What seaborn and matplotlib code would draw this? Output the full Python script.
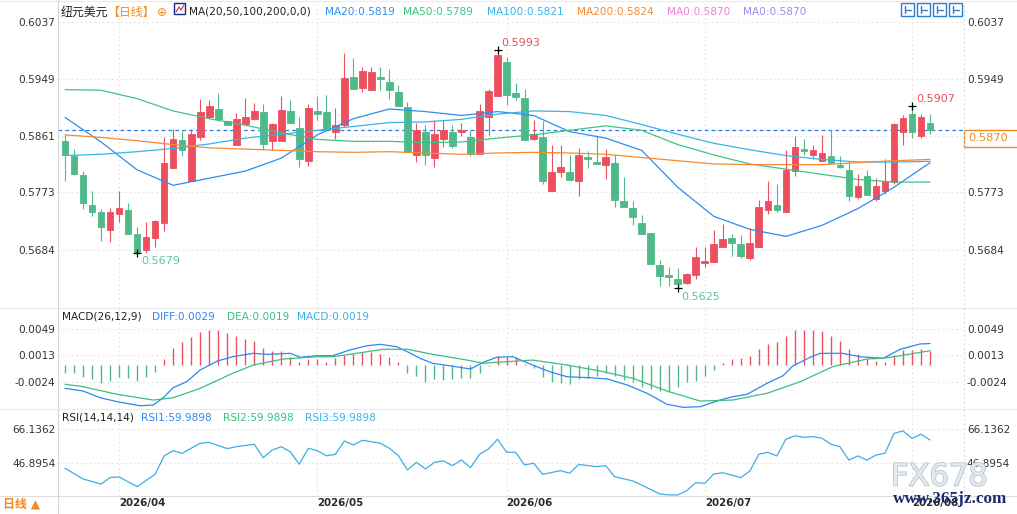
import matplotlib
matplotlib.use("Agg")
import matplotlib.pyplot as plt
import matplotlib.transforms as mtransforms
import matplotlib.patheffects as pe
from matplotlib.lines import Line2D
from matplotlib.patches import Rectangle
import seaborn as sns
import numpy as np
import pandas as pd

# --- DATA: NZD/USD daily candles ---
dates = pd.bdate_range("2026-03-24", "2026-08-05")

opens = [0.5853, 0.5830, 0.5800, 0.5754, 0.5743, 0.5715, 0.5739, 0.5746, 0.5709, 0.5684,
         0.5703, 0.5725, 0.5811, 0.5854, 0.5791, 0.5859, 0.5890, 0.5902, 0.5883, 0.5847,
         0.5879, 0.5887, 0.5897, 0.5853, 0.5853, 0.5899, 0.5873, 0.5822, 0.5899, 0.5897,
         0.5867, 0.5877, 0.5951, 0.5935, 0.5931, 0.5951, 0.5944, 0.5928, 0.5905, 0.5831,
         0.5866, 0.5826, 0.5856, 0.5866, 0.5867, 0.5859, 0.5832, 0.5889, 0.5922, 0.5975,
         0.5927, 0.5919, 0.5856, 0.5859, 0.5775, 0.5805, 0.5805, 0.5791, 0.5828, 0.5820,
         0.5815, 0.5819, 0.5760, 0.5749, 0.5726, 0.5710, 0.5661, 0.5645, 0.5639, 0.5633,
         0.5646, 0.5664, 0.5666, 0.5688, 0.5703, 0.5693, 0.5672, 0.5689, 0.5746, 0.5754,
         0.5743, 0.5806, 0.5840, 0.5831, 0.5822, 0.5829, 0.5816, 0.5808, 0.5766, 0.5798,
         0.5763, 0.5775, 0.5789, 0.5867, 0.5895, 0.5860, 0.5881]
highs = [0.5863, 0.5840, 0.5806, 0.5775, 0.5747, 0.5749, 0.5775, 0.5757, 0.5719, 0.5728,
         0.5730, 0.5858, 0.5871, 0.5868, 0.5871, 0.5917, 0.5916, 0.5927, 0.5885, 0.5896,
         0.5919, 0.5911, 0.5910, 0.5881, 0.5922, 0.5916, 0.5890, 0.5909, 0.5922, 0.5924,
         0.5904, 0.5989, 0.5981, 0.5967, 0.5967, 0.5967, 0.5964, 0.5939, 0.5913, 0.5881,
         0.5877, 0.5885, 0.5885, 0.5877, 0.5881, 0.5870, 0.5910, 0.5933, 0.5993, 0.5982,
         0.5942, 0.5933, 0.5885, 0.5883, 0.5846, 0.5846, 0.5831, 0.5842, 0.5837, 0.5860,
         0.5840, 0.5831, 0.5797, 0.5760, 0.5738, 0.5711, 0.5669, 0.5658, 0.5656, 0.5649,
         0.5689, 0.5688, 0.5715, 0.5724, 0.5709, 0.5707, 0.5718, 0.5761, 0.5791, 0.5786,
         0.5839, 0.5860, 0.5856, 0.5846, 0.5862, 0.5870, 0.5829, 0.5822, 0.5801, 0.5808,
         0.5795, 0.5824, 0.5881, 0.5893, 0.5907, 0.5895, 0.5895]
lows = [0.5791, 0.5800, 0.5747, 0.5737, 0.5698, 0.5697, 0.5728, 0.5709, 0.5679, 0.5680,
        0.5688, 0.5713, 0.5811, 0.5830, 0.5791, 0.5854, 0.5890, 0.5883, 0.5877, 0.5847,
        0.5879, 0.5885, 0.5838, 0.5838, 0.5853, 0.5881, 0.5813, 0.5814, 0.5885, 0.5869,
        0.5855, 0.5874, 0.5933, 0.5928, 0.5931, 0.5931, 0.5917, 0.5907, 0.5836, 0.5820,
        0.5815, 0.5813, 0.5844, 0.5842, 0.5860, 0.5830, 0.5832, 0.5862, 0.5922, 0.5908,
        0.5916, 0.5854, 0.5854, 0.5786, 0.5775, 0.5797, 0.5792, 0.5767, 0.5810, 0.5817,
        0.5793, 0.5751, 0.5750, 0.5722, 0.5709, 0.5662, 0.5629, 0.5629, 0.5625, 0.5631,
        0.5639, 0.5657, 0.5666, 0.5688, 0.5675, 0.5671, 0.5669, 0.5689, 0.5740, 0.5742,
        0.5743, 0.5799, 0.5831, 0.5825, 0.5822, 0.5819, 0.5810, 0.5760, 0.5763, 0.5769,
        0.5760, 0.5771, 0.5786, 0.5846, 0.5857, 0.5857, 0.5864]
closes = [0.5831, 0.5801, 0.5757, 0.5743, 0.5719, 0.5743, 0.5749, 0.5709, 0.5679, 0.5704,
          0.5729, 0.5819, 0.5856, 0.5838, 0.5863, 0.5897, 0.5907, 0.5886, 0.5878, 0.5887,
          0.5890, 0.5899, 0.5848, 0.5879, 0.5900, 0.5881, 0.5825, 0.5904, 0.5895, 0.5869,
          0.5877, 0.5950, 0.5933, 0.5961, 0.5959, 0.5948, 0.5931, 0.5907, 0.5836, 0.5870,
          0.5831, 0.5863, 0.5870, 0.5845, 0.5869, 0.5832, 0.5899, 0.5930, 0.5985, 0.5924,
          0.5921, 0.5854, 0.5863, 0.5791, 0.5805, 0.5812, 0.5792, 0.5831, 0.5825, 0.5817,
          0.5828, 0.5762, 0.5750, 0.5735, 0.5709, 0.5662, 0.5644, 0.5642, 0.5632, 0.5647,
          0.5673, 0.5667, 0.5693, 0.5701, 0.5695, 0.5674, 0.5695, 0.5751, 0.5760, 0.5746,
          0.5808, 0.5843, 0.5837, 0.5839, 0.5834, 0.5819, 0.5813, 0.5768, 0.5783, 0.5769,
          0.5783, 0.5791, 0.5879, 0.5888, 0.5867, 0.5890, 0.5870]

# moving averages, read every 4th candle
ma_idx = list(range(0, 97, 4))
ma20 = [0.5889, 0.5851, 0.5808, 0.5784, 0.5795, 0.5806, 0.5826, 0.5862, 0.5887, 0.5902,
        0.5898, 0.5892, 0.5898, 0.5892, 0.5867, 0.5857, 0.5838, 0.5781, 0.5736, 0.5716,
        0.5705, 0.5722, 0.5748, 0.5781, 0.5819]
ma50 = [0.5932, 0.5931, 0.5918, 0.5899, 0.5887, 0.5877, 0.5865, 0.5855, 0.5852, 0.5852,
        0.5850, 0.5851, 0.5857, 0.5862, 0.5869, 0.5876, 0.5869, 0.5847, 0.5831, 0.5817,
        0.5809, 0.5801, 0.5793, 0.5789, 0.5789]
ma100 = [0.5830, 0.5832, 0.5836, 0.5841, 0.5848, 0.5857, 0.5863, 0.5869, 0.5875, 0.5881,
         0.5882, 0.5886, 0.5894, 0.5899, 0.5898, 0.5892, 0.5878, 0.5863, 0.5849, 0.5839,
         0.5830, 0.5824, 0.5820, 0.5820, 0.5821]
ma200 = [0.5862, 0.5858, 0.5853, 0.5847, 0.5842, 0.5840, 0.5838, 0.5836, 0.5835, 0.5836,
         0.5834, 0.5832, 0.5834, 0.5835, 0.5834, 0.5832, 0.5827, 0.5822, 0.5817, 0.5816,
         0.5816, 0.5816, 0.5819, 0.5822, 0.5824]
last_price = 0.5870

# MACD histogram, one value per candle
macd_hist = [-0.00114, -0.00122, -0.00177, -0.00201, -0.00260, -0.00224, -0.00177, -0.00191, -0.00224, -0.00177,
             -0.00108, 0.00076, 0.00233, 0.00312, 0.00381, 0.00454, 0.00482, 0.00482, 0.00436, 0.00399,
             0.00349, 0.00325, 0.00229, 0.00187, 0.00187, 0.00108, 0.00039, 0.00076, 0.00076, 0.00030,
             0.00086, 0.00132, 0.00141, 0.00169, 0.00177, 0.00145, 0.00108, 0.00039, -0.00114, -0.00155,
             -0.00238, -0.00201, -0.00215, -0.00201, -0.00183, -0.00191, -0.00114, -0.00014, 0.00114, 0.00108,
             0.00108, 0.00011, -0.00053, -0.00177, -0.00238, -0.00252, -0.00270, -0.00201, -0.00183, -0.00163,
             -0.00122, -0.00163, -0.00215, -0.00238, -0.00307, -0.00339, -0.00367, -0.00385, -0.00307, -0.00238,
             -0.00229, -0.00155, -0.00076, 0.00017, 0.00076, 0.00094, 0.00118, 0.00215, 0.00280, 0.00307,
             0.00395, 0.00478, 0.00478, 0.00478, 0.00464, 0.00395, 0.00325, 0.00215, 0.00141, 0.00076,
             0.00048, 0.00030, 0.00132, 0.00201, 0.00201, 0.00215, 0.00191]

diff_idx = [0, 2.0, 3.9, 5.8, 8.3, 9.8, 10.9, 12.0, 13.5, 15.0, 16.9, 18.6, 20.9, 22.4, 25.0, 26.1,
            28.0, 29.7, 31.6, 33.5, 35.0, 36.8, 38.0, 39.4, 40.8, 42.7, 45.0, 46.4, 47.9, 49.7,
            51.9, 53.8, 55.7, 58.3, 60.2, 62.4, 64.6, 66.8, 68.6, 70.5, 72.7, 74.1, 75.7, 77.9,
            79.7, 80.8, 82.7, 83.8, 86.3, 88.2, 90.8, 92.7, 94.9, 96]
diff_val = [-0.00330, -0.00367, -0.00460, -0.00515, -0.00571, -0.00561, -0.00460, -0.00321, -0.00238, -0.00076,
            0.00048, 0.00108, 0.00155, 0.00141, 0.00155, 0.00100, 0.00122, 0.00122, 0.00201, 0.00260,
            0.00280, 0.00247, 0.00177, 0.00086, 0.00017, -0.00017, -0.00062, 0.00030, 0.00100, 0.00108,
            -0.00007, -0.00100, -0.00169, -0.00183, -0.00201, -0.00284, -0.00399, -0.00551, -0.00593, -0.00584,
            -0.00492, -0.00446, -0.00413, -0.00260, -0.00155, -0.00017, 0.00100, 0.00155, 0.00155, 0.00108,
            0.00086, 0.00211, 0.00285, 0.00290]
dea_idx = [0, 2.0, 5.8, 9.8, 12.0, 15.0, 18.6, 20.9, 24.2, 28.0, 29.7, 31.6, 33.5, 35.3, 38.0, 40.8,
           44.6, 46.4, 47.9, 51.9, 55.7, 59.4, 63.0, 66.8, 70.5, 74.1, 77.9, 81.6, 85.2, 89.0, 90.8, 92.7, 96]
dea_val = [-0.00274, -0.00307, -0.00413, -0.00492, -0.00460, -0.00330, -0.00122, -0.00007, 0.00076, 0.00108,
           0.00108, 0.00141, 0.00177, 0.00211, 0.00211, 0.00141, 0.00062, 0.00017, 0.00030, 0.00062,
           -0.00007, -0.00090, -0.00191, -0.00367, -0.00506, -0.00492, -0.00399, -0.00238, -0.00030, 0.00076,
           0.00086, 0.00122, 0.00191]

rsi_idx = [0, 2, 4, 5, 6, 8, 10, 11, 12, 13, 15, 16, 18, 19, 21, 22, 23, 24, 25, 26,
           27, 28, 29, 30, 31, 32, 33, 35, 36, 37, 38, 39, 40, 41, 42, 43, 44, 45, 46, 47,
           48, 49, 50, 51, 52, 53, 55, 56, 57, 59, 60, 61, 63, 64, 66, 67, 68, 69, 70, 71,
           72, 73, 75, 76, 77, 78, 79, 80, 81, 82, 83, 84, 85, 86, 87, 88, 89, 90, 91, 92,
           93, 94, 95, 96]
rsi_val = [43.7, 37.5, 34.6, 38.3, 38.7, 33.1, 40.2, 50.8, 53.8, 52.3, 58.1, 58.6, 55.0, 56.1, 57.5, 49.8, 54.2, 56.1, 53.2, 46.0,
           55.2, 53.8, 50.9, 51.7, 59.4, 57.1, 59.8, 58.1, 55.2, 50.9, 42.7, 47.1, 43.3, 47.1, 47.9, 45.2, 48.5, 44.0, 51.7, 54.8,
           60.4, 52.9, 52.9, 45.6, 46.6, 40.2, 42.3, 40.8, 45.9, 44.6, 45.2, 38.8, 36.4, 34.0, 28.9, 28.3, 28.3, 30.8, 35.4, 35.0,
           40.4, 41.1, 38.3, 42.1, 51.7, 52.9, 50.8, 60.4, 62.4, 61.5, 61.9, 61.0, 57.5, 56.1, 48.4, 50.8, 48.4, 51.3, 52.3, 63.8,
           65.2, 60.9, 63.3, 59.9898]

price_ticks = [0.6037, 0.5949, 0.5861, 0.5773, 0.5684]
macd_ticks = [0.0049, 0.0013, -0.0024]
rsi_ticks = [66.1362, 46.8954]

# --- STYLE ---
sns.set_theme(style="white")
plt.rcParams['font.family'] = ['DejaVu Sans', 'Noto Sans CJK SC']

RED = "#ec4f5e"
GREEN = "#4fb987"
MA20_C, MA50_C, MA100_C, MA200_C = "#2f8cf2", "#3fc384", "#38b4ea", "#f58a32"
DIFF_C, DEA_C, RSI_C = "#2f86f0", "#3cbf7e", "#3aafe6"
ORANGE = "#f08a1c"
GRID_C = "#e2e2e2"
TXT = "#222222"

W, H = 1017, 514
X0, X1 = 58, 964


def rect(top, bottom):
    return [X0 / W, 1 - bottom / H, (X1 - X0) / W, (bottom - top) / H]


def fxy(x, y):
    return x / W, 1 - y / H


fig = plt.figure(figsize=(W / 100, H / 100), dpi=100)
ax1 = fig.add_axes(rect(3, 308))
ax2 = fig.add_axes(rect(308, 408.7), sharex=ax1)
ax3 = fig.add_axes(rect(408.7, 496), sharex=ax1)

n = len(closes)
idx = np.arange(n)
o, h, l, c = map(np.array, (opens, highs, lows, closes))
month_starts = [i for i in range(1, n) if dates[i].month != dates[i - 1].month]

for ax, ticks in ((ax1, price_ticks), (ax2, macd_ticks), (ax3, rsi_ticks)):
    for s in ax.spines.values():
        s.set_visible(False)
    ax.grid(False)
    for t in ticks:
        ax.axhline(t, color=GRID_C, lw=0.8, ls=(0, (1.5, 2.5)), zorder=0)
    for m in month_starts:
        ax.axvline(m, color=GRID_C, lw=0.8, ls=(0, (1.5, 2.5)), zorder=0)
    ax.set_yticks(ticks)
    ax.set_yticklabels([f"{t:.4f}" for t in ticks])
    ax.tick_params(axis='y', left=False, right=False, length=0, labelleft=True, labelright=True,
                   labelsize=7.6, labelcolor="#333333", pad=2)
    ax.tick_params(axis='x', bottom=False, labelbottom=False)
    ax.set_facecolor("white")

ax1.set_xlim(-0.78, 99.77)
ax1.set_ylim(0.55943, 0.60659)
ax2.set_ylim(-0.00612, 0.00783)
ax3.set_ylim(27.7, 78.0)

# right-hand 0.5861 label sits under the current-price box
ax1.yaxis.get_major_ticks()[2].label2.set_visible(False)

# --- candles ---
up = c >= o
colors = np.where(up, RED, GREEN)
ax1.vlines(idx, l, h, colors=colors, lw=0.8, zorder=3)
ax1.bar(idx, np.abs(c - o), bottom=np.minimum(o, c), width=0.74, color=colors,
        edgecolor=colors, linewidth=0.6, zorder=4)

for vals, col in ((ma20, MA20_C), (ma50, MA50_C), (ma100, MA100_C), (ma200, MA200_C)):
    sns.lineplot(x=ma_idx, y=vals, ax=ax1, color=col, lw=0.9, zorder=5, legend=False)

ax1.axhline(last_price, color="#2a7be6", lw=0.9, ls=(0, (3, 2.5)), zorder=2)
blend = mtransforms.blended_transform_factory(ax1.transAxes, ax1.transData)
ax1.add_patch(Rectangle((1.0, last_price - 0.0026), 0.07, 0.0026, transform=blend,
                        fc="white", ec=ORANGE, lw=1, clip_on=False, zorder=6))
ax1.text(1.0 + 4 / (X1 - X0), last_price - 0.0013, f"{last_price:.4f}", transform=blend,
         color=ORANGE, fontsize=8.2, va='center', ha='left', clip_on=False, zorder=7)

# high / low markers
i_hi1 = int(np.argmax(h[:60]))
i_lo1 = int(np.argmin(l[:30]))
i_lo2 = int(np.argmin(l))
i_hi2 = 80 + int(np.argmax(h[80:]))
for i, val, off, col in ((i_hi1, h[i_hi1], 7, "#e94f5d"), (i_lo1, l[i_lo1], -8, "#5ec497"),
                         (i_lo2, l[i_lo2], -9, "#5ec497"), (i_hi2, h[i_hi2], 7, "#e94f5d")):
    ax1.plot(i, val, marker='+', color="black", ms=6, mew=0.9, zorder=8)
    ax1.annotate(f"{val:.4f}", (i, val), xytext=(4, off), textcoords='offset pixels',
                 color=col, fontsize=8, va='center', ha='left', zorder=8)

# --- MACD ---
hist = np.array(macd_hist)
ax2.vlines(idx, 0, hist, colors=np.where(hist >= 0, RED, GREEN), lw=1.0, zorder=3)
sns.lineplot(x=diff_idx, y=diff_val, ax=ax2, color=DIFF_C, lw=0.9, zorder=4, legend=False)
sns.lineplot(x=dea_idx, y=dea_val, ax=ax2, color=DEA_C, lw=0.9, zorder=4, legend=False)

# --- RSI ---
sns.lineplot(x=rsi_idx, y=rsi_val, ax=ax3, color=RSI_C, lw=0.9, zorder=4, legend=False)

ax3.set_xticks(month_starts)
ax3.set_xticklabels([dates[i].strftime("%Y/%m") for i in month_starts], fontweight='bold',
                    fontsize=7.4, color="#2b2b2b", ha='left')
ax3.tick_params(axis='x', bottom=False, length=0, labelbottom=True, pad=1.5)

# --- frame lines ---
for y in (1, 308, 408.7):
    fig.add_artist(Line2D([0, 1], [1 - y / H] * 2, color="#ebebeb", lw=0.8))
fig.add_artist(Line2D([0, 1], [1 - 496 / H] * 2, color="#dcdcdc", lw=0.8))
fig.add_artist(Line2D([X0 / W] * 2, [0, 1], color="#d6d6d6", lw=0.8))
fig.add_artist(Line2D([X1 / W] * 2, [1 - 496 / H, 1 - 3 / H], color="#d4d4d4", lw=0.8,
                      ls=(0, (1.5, 2.5))))


# --- header texts ---
def header(y, items):
    for x, s, col, fs in items:
        fig.text(*fxy(x, y), s, color=col, fontsize=fs, va='center', ha='left')


header(12, [(61, "纽元美元", TXT, 8.6), (107, "【日线】", ORANGE, 8.6), (157, "⊕", ORANGE, 8.5),
            (189, "MA(20,50,100,200,0,0)", TXT, 7.6),
            (325, f"MA20:{ma20[-1]:.4f}", MA20_C, 7.6), (403, f"MA50:{ma50[-1]:.4f}", MA50_C, 7.6),
            (487, f"MA100:{ma100[-1]:.4f}", MA100_C, 7.6), (577, f"MA200:{ma200[-1]:.4f}", MA200_C, 7.6),
            (667, f"MA0:{last_price:.4f}", "#ec80d6", 7.6), (743, f"MA0:{last_price:.4f}", "#9a8cf0", 7.6)])
header(316.7, [(62, "MACD(26,12,9)", TXT, 7.6), (152, f"DIFF:{diff_val[-1]:.4f}", DIFF_C, 7.6),
               (227, f"DEA:{dea_val[-1]:.4f}", DEA_C, 7.6), (297, f"MACD:{macd_hist[-1]:.4f}", MA100_C, 7.6)])
rsi_last = f"{rsi_val[-1]:.4f}"
header(418, [(62, "RSI(14,14,14)", TXT, 7.6), (141, "RSI1:" + rsi_last, DIFF_C, 7.6),
             (223, "RSI2:" + rsi_last, DEA_C, 7.6), (305, "RSI3:" + rsi_last, MA100_C, 7.6)])

fig.text(*fxy(3, 504), "日线 ▲", color=ORANGE, fontsize=8.6, fontweight='bold', va='center', ha='left')

# small MA icon and toolbar buttons
fig.add_artist(Rectangle(fxy(174, 14), 11 / W, 11 / H, transform=fig.transFigure,
                         fc="white", ec="#1b2a80", lw=1))
fig.add_artist(Line2D([176 / W, 179 / W, 181 / W, 184 / W], [1 - 12 / H, 1 - 7 / H, 1 - 10 / H, 1 - 5 / H],
                      color="#d03040", lw=0.8))
for bx in (901, 917, 933, 949):
    fig.add_artist(Rectangle(fxy(bx, 16), 13 / W, 13 / H, transform=fig.transFigure,
                             fc="white", ec="#2a7fd4", lw=1))
    fig.add_artist(Line2D([(bx + 4) / W, (bx + 4) / W], [1 - 13 / H, 1 - 6 / H], color="#2a7fd4", lw=1))
    fig.add_artist(Line2D([(bx + 4) / W, (bx + 10) / W], [1 - 9.5 / H, 1 - 9.5 / H], color="#2a7fd4", lw=1))

# watermark
fig.text(*fxy(891, 477), "FX678", color="#e4e9f0", fontsize=22, va='center', ha='left',
         path_effects=[pe.withStroke(linewidth=1.2, foreground="#b9c3d0")])
fig.text(*fxy(893, 499), "www.365jz.com", color="#1c2a6e", fontsize=12.3, fontweight='bold',
         family='Liberation Serif', va='center', ha='left')

fig.savefig("out.png", dpi=100, facecolor="white")
